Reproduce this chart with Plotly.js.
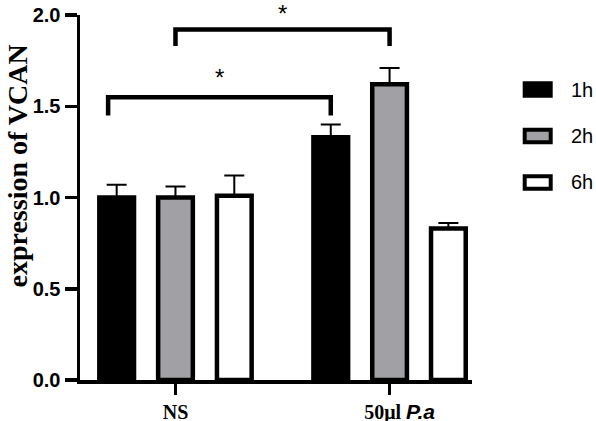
<!DOCTYPE html>
<html>
<head>
<meta charset="utf-8">
<script src="https://cdn.plot.ly/plotly-3.0.1.min.js"></script>
<style>html,body{margin:0;padding:0;background:#fff;}#chart{width:596px;height:421px;}</style>
</head>
<body>
<div id="chart"></div>
<script>
// ---- data ----
const categories = ['NS', '&nbsp;&nbsp;&nbsp;&nbsp;50μl <span style="font-family:\'Liberation Sans\',Arial,sans-serif;font-size:21px"><i>P.a</i></span>'];
const seriesNames = ['1h', '2h', '6h'];
const mean1h = [1.00, 1.33];
const mean2h = [1.00, 1.62];
const mean6h = [1.01, 0.83];
const err1h = [0.07, 0.07];
const err2h = [0.06, 0.09];
const err6h = [0.11, 0.03];
const yTicks = [0, 0.5, 1.0, 1.5, 2.0];
// significance brackets: [group, series] pairs, bar height and leg bottom
const sigFrom = [[0, 0], [0, 1]];
const sigTo = [[1, 0], [1, 1]];
const sigTop = [1.55, 1.92];
const sigLeg = [1.45, 1.83];
const sigLabel = ['*', '*'];

// ---- styling ----
const fills = ['#000000', '#a1a1a5', '#ffffff'];
const bargap = 0.176;
const bargroupgap = 0.41;
const slot = (1 - bargap) / 3;
const W = 596, H = 421;
const M = {l: 80, r: 124, t: 15, b: 41};
const pw = W - M.l - M.r, ph = H - M.t - M.b;
const px = x => (x - M.l) / pw;
const py = y => (H - M.b - y) / ph;

const means = [mean1h, mean2h, mean6h];
const errs = [err1h, err2h, err6h];
const xs = categories.map((c, i) => i);

const traces = seriesNames.map((name, s) => ({
  type: 'bar', name: name, x: xs, y: means[s],
  marker: {color: fills[s], line: {color: '#000', width: 4.5}},
  error_y: {type: 'data', array: errs[s], arrayminus: errs[s].map(() => 0), symmetric: false,
            color: '#000', thickness: 2, width: 10},
  showlegend: false, hoverinfo: 'skip'
}));

const shapes = [];
const annotations = [];
for (let k = 0; k < sigFrom.length; k++) {
  const x1 = sigFrom[k][0] + (sigFrom[k][1] - 1) * slot - (k === 0 ? 0.04 : 0);
  const x2 = sigTo[k][0] + (sigTo[k][1] - 1) * slot;
  shapes.push({type: 'path', xref: 'x', yref: 'y',
    path: `M ${x1},${sigLeg[k]} L ${x1},${sigTop[k]} L ${x2},${sigTop[k]} L ${x2},${sigLeg[k]}`,
    line: {color: '#000', width: 4.5}});
  annotations.push({xref: 'x', yref: 'y', x: (x1 + x2) / 2, y: sigTop[k], text: sigLabel[k],
    showarrow: false, xanchor: 'center', yanchor: 'bottom', yshift: k === 1 ? 1 : 4,
    font: {family: 'Liberation Sans, Arial, sans-serif', size: 24, color: '#000'}});
}

// legend drawn manually (wide rectangles as in the reference)
const legY = [89.5, 136, 182.5];
seriesNames.forEach((name, s) => {
  shapes.push({type: 'rect', xref: 'paper', yref: 'paper',
    x0: px(524.7), x1: px(550.7), y0: py(legY[s] - 6.2), y1: py(legY[s] + 6.2),
    fillcolor: fills[s], line: {color: '#000', width: 4}});
  annotations.push({xref: 'paper', yref: 'paper', x: px(569), y: py(legY[s]), text: name,
    showarrow: false, xanchor: 'left', yanchor: 'middle',
    font: {family: 'Liberation Sans, Arial, sans-serif', size: 20, color: '#000'}});
});

// y-axis title
annotations.push({xref: 'paper', yref: 'paper', x: px(17), y: py(166.5), text: 'expression of VCAN',
  textangle: -90, showarrow: false, xanchor: 'center', yanchor: 'middle', borderpad: 0,
  font: {family: 'Liberation Serif, Times New Roman, serif', size: 28, color: '#000', weight: 'bold'}});

const layout = {
  width: W, height: H, margin: M,
  paper_bgcolor: '#fff', plot_bgcolor: '#fff',
  barmode: 'group', bargap: bargap, bargroupgap: bargroupgap,
  showlegend: false,
  xaxis: {range: [-0.446, 1.385], tickvals: xs, ticktext: categories,
    showgrid: false, zeroline: false, showline: true, linecolor: '#000', linewidth: 3.5,
    ticks: 'outside', ticklen: 11, tickwidth: 3.5, tickcolor: '#000',
    tickfont: {family: 'Liberation Serif, Times New Roman, serif', size: 20, color: '#000', weight: 'bold'},
    fixedrange: true},
  yaxis: {range: [0, 2], tickvals: yTicks, tickformat: '.1f',
    showgrid: false, zeroline: false, showline: true, linecolor: '#000', linewidth: 3.5,
    ticks: 'outside', ticklen: 12, tickwidth: 3.5, tickcolor: '#000',
    tickfont: {family: 'Liberation Sans, Arial, sans-serif', size: 20, color: '#000', weight: 'bold'},
    fixedrange: true},
  shapes: shapes, annotations: annotations
};

Plotly.newPlot('chart', traces, layout, {staticPlot: true, displayModeBar: false});
</script>
</body>
</html>
